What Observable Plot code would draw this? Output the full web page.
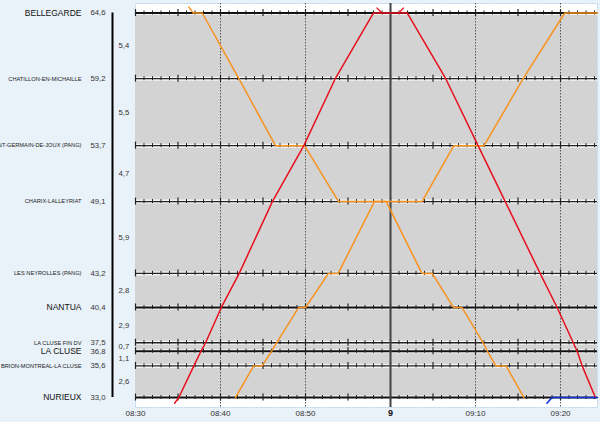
<!DOCTYPE html>
<html><head><meta charset="utf-8">
<script src="https://cdn.jsdelivr.net/npm/d3@7"></script>
<script src="https://cdn.jsdelivr.net/npm/@observablehq/plot@0.6"></script>
<style>html,body{margin:0;padding:0;background:#e9f1f9;overflow:hidden}</style>
</head><body><div id="chart"></div>
<script>
// Stations (top to bottom)
const stationNames = ["BELLEGARDE","CHATILLON-EN-MICHAILLE","SAINT-GERMAIN-DE-JOUX (PANG)","CHARIX-LALLEYRIAT","LES NEYROLLES (PANG)","NANTUA","LA CLUSE FIN DV","LA CLUSE","BRION-MONTREAL-LA CLUSE","NURIEUX"];
const stationKm = [64.6, 59.2, 53.7, 49.1, 43.2, 40.4, 37.5, 36.8, 35.6, 33.0];
const stationKmLabels = ["64,6","59,2","53,7","49,1","43,2","40,4","37,5","36,8","35,6","33,0"];
const stationMajor = [true,false,false,false,false,true,false,true,false,true];
const sectionLabels = ["5,4","5,5","4,7","5,9","2,8","2,9","0,7","1,1","2,6"];

// Time axis: minutes after 08:30
const timeTicks = [0, 10, 20, 30, 40, 50];
const timeTickLabels = ["08:30","08:40","08:50","9","09:10","09:20"];
const timeDomain = [0, 54.35];
const kmDomain = [32.18, 65.38];

// Trains (minutes after 08:30, km)
const redTimes = [4.6, 5.1, 6.86, 7.7, 8.24, 10.1, 12.2, 16.1, 19.8, 23.5, 28.0, 31.96, 36.5, 40.3, 43.5, 47.6, 49.6, 51.5, 51.96, 52.55, 54.1];
const redKm    = [32.53, 33.0, 35.6, 36.8, 37.5, 40.4, 43.2, 49.1, 53.7, 59.2, 64.6, 64.6, 59.2, 53.7, 49.1, 43.2, 40.4, 37.5, 36.8, 35.6, 33.0];
const orangeDownTimes = [6.27, 6.8, 7.85, 12.16, 16.47, 19.88, 23.9, 29.5, 33.7, 34.9, 37.4, 38.4, 40.9, 41.4, 42.4, 43.6, 45.7];
const orangeDownKm    = [65.08, 64.6, 64.6, 59.2, 53.7, 53.7, 49.1, 49.1, 43.2, 43.2, 40.4, 40.4, 37.5, 36.8, 35.6, 35.6, 33.0];
const orangeUpTimes = [11.76, 13.9, 14.9, 16.0, 16.6, 19.2, 20.0, 22.7, 23.85, 28.1, 33.7, 37.45, 41.0, 45.6, 50.5, 54.35];
const orangeUpKm    = [33.0, 35.6, 35.6, 36.8, 37.5, 40.4, 40.4, 43.2, 43.2, 49.1, 49.1, 53.7, 53.7, 59.2, 64.6, 64.6];
const blueTimes = [48.4, 49.0, 54.35];
const blueKm    = [32.53, 33.0, 33.0];
// small red arrival/departure marks at Bellegarde
const redMarkT1 = [28.35, 30.98];
const redMarkT2 = [29.0, 31.56];
const redMarkK1 = [65.04, 64.6];
const redMarkK2 = [64.6, 65.04];

const stations = stationNames.map((n, i) => ({name: n, km: stationKm[i], label: stationKmLabels[i], major: stationMajor[i]}));
const sections = sectionLabels.map((l, i) => ({label: l, km: (stationKm[i] + stationKm[i + 1]) / 2}));
const minutes = d3.range(0, 55);
const tickData = stations.flatMap(s => minutes.map(m => ({m, km: s.km, big: m % 5 === 0})));
const pts = (T, K) => T.map((t, i) => ({t, km: K[i]}));
const marksData = redMarkT1.map((t, i) => ({t1: t, t2: redMarkT2[i], k1: redMarkK1[i], k2: redMarkK2[i]}));
const ticksFmt = timeTicks.map((t, i) => ({t, label: timeTickLabels[i]}));

const font = "Liberation Sans, Arial, sans-serif";

const chart = Plot.plot({
  width: 600, height: 422,
  marginLeft: 135, marginRight: 3, marginTop: 3, marginBottom: 15,
  style: {background: "#e9f1f9", fontFamily: font},
  x: {domain: timeDomain, axis: null},
  y: {domain: kmDomain, axis: null},
  marks: [
    Plot.frame({fill: "white", stroke: "#b9d3ec", strokeDasharray: "2,1"}),
    Plot.rect([0], {x1: timeDomain[0], x2: timeDomain[1], y1: d3.min(stationKm), y2: d3.max(stationKm), fill: "#d3d3d3"}),
    // vertical grid
    Plot.ruleX(timeTicks.filter(t => t !== 30 && t !== 0), {stroke: "#555", strokeWidth: 1, strokeDasharray: "1.5,1.5"}),
    // station lines
    Plot.ruleY(stations, {y: "km", stroke: "white", strokeOpacity: 0.75, strokeWidth: 4}),
    Plot.ruleY(stations.filter(s => !s.major), {y: "km", stroke: "#222", strokeWidth: 1.3}),
    Plot.ruleY(stations.filter(s => s.major), {y: "km", stroke: "#111", strokeWidth: 2}),
    Plot.ruleX(tickData.filter(d => !d.big), {x: "m", y1: "km", y2: "km", insetTop: -2, insetBottom: -2, stroke: "#222", strokeWidth: 1}),
    Plot.ruleX(tickData.filter(d => d.big), {x: "m", y1: "km", y2: "km", insetTop: -3.5, insetBottom: -3.5, stroke: "#222", strokeWidth: 1.2}),
    // 9:00 line
    Plot.ruleX([30], {stroke: "#444", strokeWidth: 2}),
    // trains
    Plot.line(pts(orangeDownTimes, orangeDownKm), {x: "t", y: "km", stroke: "#f7931e", strokeWidth: 1.5}),
    Plot.line(pts(orangeUpTimes, orangeUpKm), {x: "t", y: "km", stroke: "#f7931e", strokeWidth: 1.5}),
    Plot.line(pts(redTimes, redKm), {x: "t", y: "km", stroke: "#e8101e", strokeWidth: 1.5}),
    Plot.link(marksData, {x1: "t1", y1: "k1", x2: "t2", y2: "k2", stroke: "#e8101e", strokeWidth: 1.3}),
    Plot.line(pts(blueTimes, blueKm), {x: "t", y: "km", stroke: "#1030e0", strokeWidth: 1.6}),
    // left annotation
    Plot.ruleX([timeDomain[0]], {y1: d3.min(stationKm), y2: d3.max(stationKm), dx: -23, stroke: "#000", strokeWidth: 2}),
    Plot.text(stations.filter(s => s.major), {y: "km", text: "name", frameAnchor: "left", dx: -54, textAnchor: "end", fontSize: 8.5, fill: "#111"}),
    Plot.text(stations.filter(s => !s.major), {y: "km", text: "name", frameAnchor: "left", dx: -54, textAnchor: "end", fontSize: 5.7, fill: "#222"}),
    Plot.text(stations, {y: "km", text: "label", frameAnchor: "left", dx: -45, textAnchor: "start", fontSize: 7.7, fill: "#333"}),
    Plot.text(sections, {y: "km", text: "label", frameAnchor: "left", dx: -17, textAnchor: "start", fontSize: 7.7, fill: "#333"}),
    // time labels
    Plot.text(ticksFmt.filter(d => d.t !== 30), {x: "t", text: "label", frameAnchor: "bottom", dy: 8, fontSize: 8, fill: "#333"}),
    Plot.text(ticksFmt.filter(d => d.t === 30), {x: "t", text: "label", frameAnchor: "bottom", dy: 8, fontSize: 9, fontWeight: "bold", fill: "#111"})
  ]
});
document.getElementById("chart").appendChild(chart);
</script>
</body></html>
